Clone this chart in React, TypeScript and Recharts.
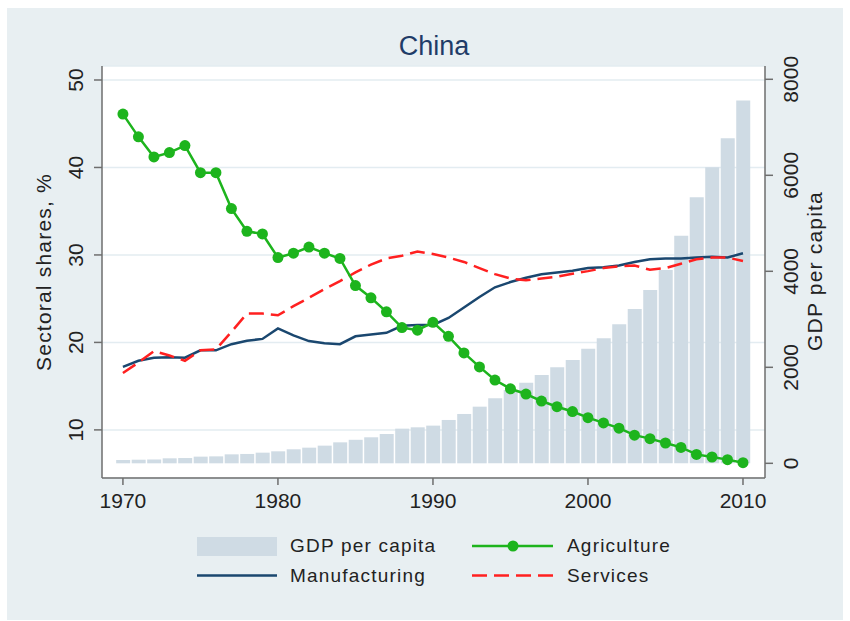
import React from 'react';
import { ComposedChart, Bar, Line, XAxis, YAxis, CartesianGrid, Legend } from 'recharts';

const YEARS = [
  1970, 1971, 1972, 1973, 1974, 1975, 1976, 1977, 1978, 1979,
  1980, 1981, 1982, 1983, 1984, 1985, 1986, 1987, 1988, 1989,
  1990, 1991, 1992, 1993, 1994, 1995, 1996, 1997, 1998, 1999,
  2000, 2001, 2002, 2003, 2004, 2005, 2006, 2007, 2008, 2009, 2010,
];
const GDP_PER_CAPITA = [
  69, 75, 80, 104, 110, 139, 145, 187, 195, 222,
  250, 292, 326, 368, 437, 490, 542, 611, 722, 750,
  785, 903, 1028, 1180, 1354, 1528, 1680, 1840, 2000, 2153,
  2389, 2604, 2896, 3215, 3611, 4028, 4743, 5542, 6167, 6771, 7556,
];
const AGRICULTURE = [
  46.1, 43.5, 41.2, 41.7, 42.5, 39.4, 39.4, 35.3, 32.7, 32.4,
  29.7, 30.2, 30.9, 30.2, 29.6, 26.5, 25.1, 23.5, 21.7, 21.4,
  22.3, 20.7, 18.8, 17.2, 15.7, 14.7, 14.1, 13.3, 12.65, 12.1,
  11.4, 10.8, 10.2, 9.4, 9.0, 8.5, 8.0, 7.2, 6.9, 6.6, 6.25,
];
const MANUFACTURING = [
  17.2, 17.9, 18.25, 18.3, 18.25, 19.1, 19.1, 19.8, 20.2, 20.4,
  21.6, 20.8, 20.15, 19.9, 19.8, 20.7, 20.9, 21.1, 21.9, 22.0,
  22.0, 22.8, 24.0, 25.2, 26.3, 26.9, 27.4, 27.8, 28.0, 28.2,
  28.5, 28.6, 28.8, 29.2, 29.5, 29.6, 29.6, 29.7, 29.8, 29.7, 30.2,
];
const SERVICES = [
  16.5, 17.7, 19.0, 18.5, 17.9, 19.1, 19.2, 21.2, 23.3, 23.3,
  23.1, 24.15, 25.1, 26.1, 27.0, 28.0, 28.9, 29.6, 29.9, 30.4,
  30.1, 29.7, 29.2, 28.5, 27.8, 27.3, 27.1, 27.3, 27.5, 27.85,
  28.15, 28.5, 28.7, 28.8, 28.3, 28.5, 29.0, 29.5, 29.7, 29.7, 29.3,
];
const X_TICKS = [1970, 1980, 1990, 2000, 2010];
const SHARE_TICKS = [10, 20, 30, 40, 50];
const GDP_TICKS = [0, 2000, 4000, 6000, 8000];

const data = YEARS.map((year, i) => ({
  year,
  gdp: GDP_PER_CAPITA[i],
  agriculture: AGRICULTURE[i],
  manufacturing: MANUFACTURING[i],
  services: SERVICES[i],
}));

const FONT = '"Liberation Sans", Arial, sans-serif';
const BG = '#e8eff2';
const BAR = '#cfdbe4';
const GREEN = '#1db41d';
const NAVY = '#1a476f';
const RED = '#ff2020';
const AXIS = '#6e6e6e';

// stata style: y labels read bottom to top
const RotatedTick = ({ x, y, payload }: any) => (
  <text
    x={x}
    y={y}
    transform={`rotate(-90, ${x}, ${y})`}
    textAnchor="middle"
    fontSize={21}
    fontFamily={FONT}
    fill="#222"
  >
    {payload.value}
  </text>
);

const VerticalTitle = ({ px, py, text }: any) => (
  <text
    x={px}
    y={py}
    transform={`rotate(-90, ${px}, ${py})`}
    textAnchor="middle"
    fontSize={21}
    fontFamily={FONT}
    letterSpacing={1.2}
    fill="#222"
  >
    {text}
  </text>
);

const ChartTitle = () => (
  <text x={427} y={47} textAnchor="middle" fontSize={27} fontFamily={FONT} fill="#1f3c68">
    China
  </text>
);

const renderLegend = () => (
  <svg width={836} height={70} style={{ display: 'block' }}>
    <g fontFamily={FONT} fontSize={19} fill="#222" letterSpacing={1.2}>
      <rect x={190} y={14} width={80} height={19} fill={BAR} />
      <text x={283} y={29}>GDP per capita</text>
      <line x1={465} x2={546} y1={23} y2={23} stroke={GREEN} strokeWidth={2.5} />
      <circle cx={506} cy={23} r={5.5} fill={GREEN} />
      <text x={560} y={29}>Agriculture</text>
      <line x1={190} x2={270} y1={52.5} y2={52.5} stroke={NAVY} strokeWidth={2.5} />
      <text x={283} y={59}>Manufacturing</text>
      <line x1={465} x2={546} y1={52.5} y2={52.5} stroke={RED} strokeWidth={2.5} strokeDasharray="15 7" />
      <text x={560} y={59}>Services</text>
    </g>
  </svg>
);

export default function App() {
  return (
    <div style={{ position: 'absolute', left: 7, top: 8, width: 836, height: 612, background: BG }}>
      <ComposedChart
        width={836}
        height={612}
        data={data}
        margin={{ top: 58, right: 0, left: 0, bottom: 112 }}
      >
        <CartesianGrid
          yAxisId="share"
          vertical={false}
          stroke="#e3ecf1"
          strokeWidth={1.5}
          fill="#ffffff"
          fillOpacity={1}
        />
        <XAxis
          dataKey="year"
          type="number"
          domain={[1968.65, 2011.42]}
          ticks={X_TICKS}
          allowDataOverflow
          height={30}
          tickSize={7}
          tickMargin={8}
          axisLine={{ stroke: AXIS, strokeWidth: 1.5 }}
          tickLine={{ stroke: AXIS, strokeWidth: 1.5 }}
          tick={{ fontSize: 21, fontFamily: FONT, fill: '#222' }}
          label={<ChartTitle />}
        />
        <YAxis
          yAxisId="share"
          orientation="left"
          type="number"
          width={95}
          domain={[4.5, 51.6]}
          ticks={SHARE_TICKS}
          allowDataOverflow
          tickSize={8}
          tickMargin={11}
          axisLine={{ stroke: AXIS, strokeWidth: 1.5 }}
          tickLine={{ stroke: AXIS, strokeWidth: 1.5 }}
          tick={<RotatedTick />}
          label={<VerticalTitle px={44} py={264} text="Sectoral shares, %" />}
        />
        <YAxis
          yAxisId="gdp"
          orientation="right"
          type="number"
          width={78}
          domain={[-306, 8277]}
          ticks={GDP_TICKS}
          allowDataOverflow
          tickSize={8}
          tickMargin={25}
          axisLine={{ stroke: AXIS, strokeWidth: 1.5 }}
          tickLine={{ stroke: AXIS, strokeWidth: 1.5 }}
          tick={<RotatedTick />}
          label={<VerticalTitle px={815} py={263} text="GDP per capita" />}
        />
        <Legend
          content={renderLegend}
          verticalAlign="middle"
          align="center"
          layout="horizontal"
          wrapperStyle={{ position: 'absolute', left: 0, top: 515, width: 836, height: 70 }}
        />
        <Bar
          yAxisId="gdp"
          dataKey="gdp"
          name="GDP per capita"
          fill={BAR}
          barSize={14}
          isAnimationActive={false}
        />
        <Line
          yAxisId="share"
          dataKey="manufacturing"
          name="Manufacturing"
          type="linear"
          stroke={NAVY}
          strokeWidth={2.5}
          dot={false}
          isAnimationActive={false}
        />
        <Line
          yAxisId="share"
          dataKey="services"
          name="Services"
          type="linear"
          stroke={RED}
          strokeWidth={2.5}
          strokeDasharray="15 7"
          dot={false}
          isAnimationActive={false}
        />
        <Line
          yAxisId="share"
          dataKey="agriculture"
          name="Agriculture"
          type="linear"
          stroke={GREEN}
          strokeWidth={2.5}
          dot={{ r: 5.5, fill: GREEN, stroke: GREEN, strokeWidth: 0 }}
          isAnimationActive={false}
        />
      </ComposedChart>
    </div>
  );
}
